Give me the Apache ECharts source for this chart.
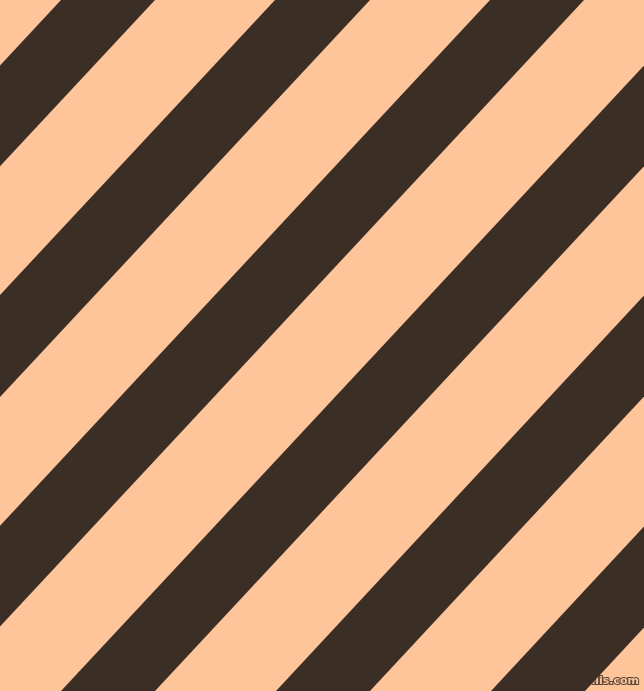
<!DOCTYPE html>
<html>
<head>
<meta charset="utf-8">
<title>stripes</title>
<script src="https://cdn.jsdelivr.net/npm/echarts@6/dist/echarts.min.js"></script>
<style>
  html, body { margin: 0; padding: 0; background: #fec59b; }
  #chart { width: 644px; height: 691px; }
</style>
</head>
<body>
<div id="chart"></div>
<script>
// x position of each dark band's edges where it meets the top (y=0) and bottom (y=691) of the picture
const darkLeftTop = [61, 275, 490, 705, 919, 1134]
const darkRightTop = [155, 370, 584, 799, 1013, 1228]
const darkLeftBottom = [-583, -369, -154, 61, 276, 491]
const darkRightBottom = [-489, -274, -60, 155, 370, 585]

const picWidth = 644
const picHeight = 691

const bands = darkLeftTop.map((x, i) => [x, darkRightTop[i], darkLeftBottom[i], darkRightBottom[i]])

function initStripes() {
    let myChart = echarts.init(document.querySelector('#chart'))

    const option = {
        backgroundColor: '#fec59b',
        animation: false,
        grid: { left: 0, right: 0, top: 0, bottom: 0 },
        xAxis: { type: 'value', min: 0, max: picWidth, show: false },
        yAxis: { type: 'value', min: 0, max: picHeight, inverse: true, show: false },
        series: [{
            type: 'custom',
            clip: true,
            data: bands,
            renderItem: function (params, api) {
                const pts = [
                    api.coord([api.value(0), 0]),
                    api.coord([api.value(1), 0]),
                    api.coord([api.value(3), picHeight]),
                    api.coord([api.value(2), picHeight])
                ]
                return {
                    type: 'polygon',
                    shape: { points: pts },
                    style: { fill: '#3b2e25' }
                }
            }
        }],
        graphic: [{
            type: 'text',
            right: 4,
            bottom: 3,
            style: {
                text: 'pixlis.com',
                font: 'bold 11px "DejaVu Sans", sans-serif',
                fill: '#fec59b',
                stroke: '#5a4536',
                lineWidth: 2
            }
        }]
    }

    myChart.setOption(option)
}
initStripes()
</script>
</body>
</html>
